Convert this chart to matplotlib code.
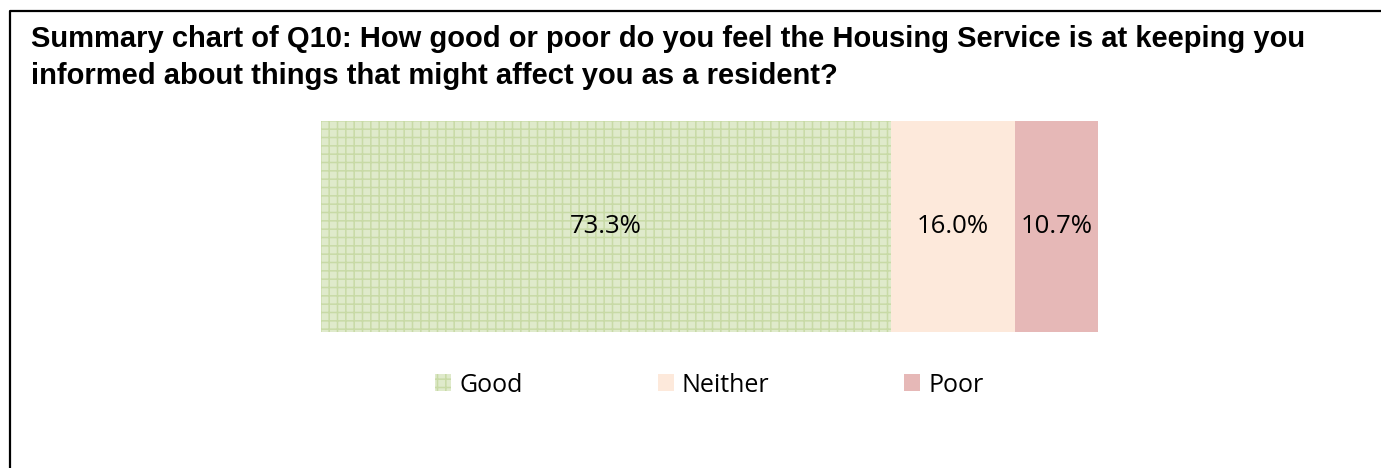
#!/usr/bin/env python3

import matplotlib
matplotlib.use('Agg')
import matplotlib.pyplot as plt
from matplotlib.lines import Line2D

# data
categories = ['Good', 'Neither', 'Poor']
percentages = [73.3, 16.0, 10.7]
labels = ['73.3%', '16.0%', '10.7%']

title_lines = ['Summary chart of Q10: How good or poor do you feel the Housing Service is at keeping you',
               'informed about things that might affect you as a resident?']

colors = ['#dfeacb', '#fde9db', '#e6b8b7']
hatch_color = '#c8daa6'

plt.rcParams['hatch.linewidth'] = 1.1
W, H = 1381, 468
fig = plt.figure(figsize=(W / 100, H / 100), dpi=100)

# box border (only top and left edges are inside the crop)
fig.add_artist(Line2D([9.5 / W, 9.5 / W, 1.0], [0.0, 1 - 10.5 / H, 1 - 10.5 / H],
                      color='black', lw=1.6, transform=fig.transFigure))

# two title lines, placed by baseline
for line, base in zip(title_lines, [47, 84]):
    fig.text(31 / W, 1 - base / H, line, fontsize=21, fontweight='bold',
             family='Liberation Sans', va='baseline', ha='left')

ax = fig.add_axes([321 / W, (H - 332) / H, (1098 - 321) / W, 211 / H])
left = 0
bars = []
for cat, val, lab, col in zip(categories, percentages, labels, colors):
    if cat == 'Good':
        b = ax.barh(0, val, left=left, height=1.0, color=col, hatch='++',
                    edgecolor=hatch_color, linewidth=0, label=cat)
    else:
        b = ax.barh(0, val, left=left, height=1.0, color=col, linewidth=0, label=cat)
    bars.append(b)
    ax.text(left + val / 2, 0, lab, ha='center', va='center', fontsize=18.5,
            family='Open Sans', color='black')
    left += val

ax.set_xlim(0, 100)
ax.set_ylim(-0.5, 0.5)
ax.axis('off')

fig.legend(handles=bars, labels=categories, loc='center', bbox_to_anchor=(709.5 / W, 1 - 385 / H),
           ncol=3, frameon=False, prop={'family': 'Open Sans', 'size': 18},
           handlelength=0.64, handleheight=0.64, handletextpad=0.32, columnspacing=5.4)

plt.savefig('out.png', dpi=100)
